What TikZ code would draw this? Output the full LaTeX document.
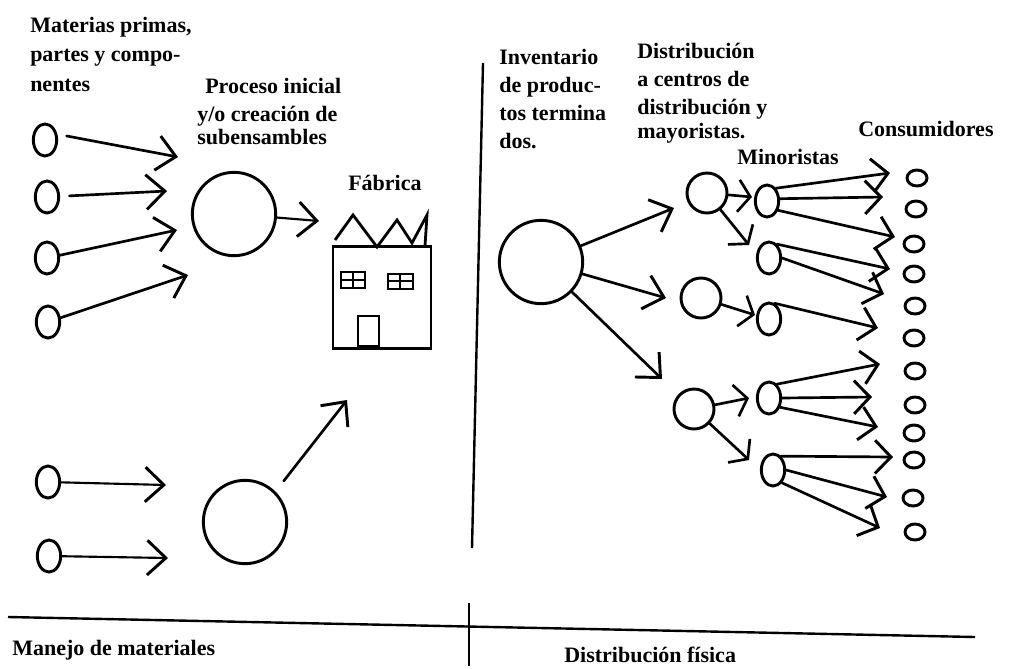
\documentclass[tikz,border=0pt]{standalone}
\usepackage{fontspec}
\setmainfont{Liberation Serif}
\usetikzlibrary{arrows.meta,shapes.geometric}
\tikzstyle{big} = [circle, draw=black, line width=2.2pt, minimum size=62.5pt, inner sep=0pt]
\tikzstyle{mid} = [circle, draw=black, line width=2.2pt, minimum size=30pt, inner sep=0pt]
\tikzstyle{oval} = [ellipse, draw=black, line width=2.2pt, minimum width=17.5pt, minimum height=24pt, inner sep=0pt]
\tikzstyle{cons} = [ellipse, draw=black, line width=2.2pt, minimum width=15pt, minimum height=12pt, inner sep=0pt]
\tikzstyle{arrow} = [line width=2pt, line cap=round, -{Straight Barb[length=14pt,width=26pt,line width=2.2pt]}]
\tikzstyle{small} = [line width=2pt, line cap=round, -{Straight Barb[length=12pt,width=25pt,line width=2.2pt]}]
\tikzstyle{tiny} = [line width=2pt, line cap=round, -{Straight Barb[length=9pt,width=24pt,line width=2pt]}]
\tikzstyle{rule} = [line width=1.8pt]
\tikzstyle{house} = [line width=2.1pt]
\tikzstyle{label} = [font=\bfseries\fontsize{16.5pt}{21pt}\selectfont, inner sep=0pt, align=left, anchor=north west]
\begin{document}
\begin{tikzpicture}[x=0.75pt,y=-0.75pt]
\useasboundingbox (0,0) rectangle (1009,668);
% materiales
\draw (45,140) node (s1) [oval] {};
\draw (47,197) node (s2) [oval] {};
\draw (47,258) node (s3) [oval] {};
\draw (48,322) node (s4) [oval] {};
\draw (48,482) node (s5) [oval] {};
\draw (49,556) node (s6) [oval] {};
\draw (234,214) node (p1) [big] {};
\draw (245,522) node (p2) [big] {};
\coordinate (a1) at (178,157);
\coordinate (a2) at (167,191);
\coordinate (a3) at (177,230);
\coordinate (a4) at (188,275);
\coordinate (a5) at (166,485);
\coordinate (a6) at (168,558);
\coordinate (b1) at (319,221);
\coordinate (b2) at (347,400);
\draw[arrow, shorten <=7pt] (s1.25)--(a1);
\draw[arrow, shorten <=7pt] (s2)--(a2);
\draw[arrow] (s3)--(a3);
\draw[arrow] (s4)--(a4);
\draw[arrow, line width=1.6pt] (s5)--(a5);
\draw[arrow, line width=1.6pt] (s6)--(a6);
\draw[arrow, line width=1.6pt] (p1)--(b1);
\draw[arrow, shorten <=10pt] (p2.45)--(b2);
% fabrica
\draw (382,297.5) node (f1) [draw=black, line width=2.2pt, minimum width=73.5pt, minimum height=77pt, inner sep=0pt] {};
\draw[house] (335,240)--(353,215)--(377,247)--(397,220)--(412,243)--(427,215)--(425,246);
\draw[house] (341,272) rectangle (365,288);
\draw[house] (341,280)--(365,280);
\draw[house] (353,272)--(353,288);
\draw[house] (388,274) rectangle (413,289);
\draw[house] (388,281)--(413,281);
\draw[house] (400,274)--(400,289);
\draw[house] (358,316) rectangle (379,346);
% distribucion
\draw (541,262) node (d0) [big] {};
\draw (707,193) node (d1) [mid] {};
\draw (701,298) node (d2) [mid] {};
\draw (694,409) node (d3) [mid] {};
\coordinate (e1) at (674,208);
\coordinate (e2) at (666,298);
\coordinate (e3) at (662,379);
\draw[arrow] (d0)--(e1);
\draw[arrow] (d0)--(e2);
\draw[arrow] (d0)--(e3);
\draw (767,201) node (m1) [oval] {};
\draw (769,258) node (m2) [oval] {};
\draw (769,319) node (m3) [oval] {};
\draw (769,398) node (m4) [oval] {};
\draw (773,470) node (m5) [oval] {};
\coordinate (g1) at (752,197);
\coordinate (g2) at (749,245);
\coordinate (g3) at (755,315);
\coordinate (g4) at (749,398);
\coordinate (g5) at (749,460);
\draw[tiny] (d1)--(g1);
\draw[tiny] (d1)--(g2);
\draw[tiny] (d2)--(g3);
\draw[tiny] (d3)--(g4);
\draw[tiny] (d3)--(g5);
% consumidores
\draw (917,178) node (c1) [cons] {};
\draw (916,209) node (c2) [cons] {};
\draw (914,244) node (c3) [cons] {};
\draw (914,274) node (c4) [cons] {};
\draw (915,306) node (c5) [cons] {};
\draw (914,338) node (c6) [cons] {};
\draw (915,371) node (c7) [cons] {};
\draw (915,405) node (c8) [cons] {};
\draw (914,433) node (c9) [cons] {};
\draw (914,460) node (c10) [cons] {};
\draw (913,498) node (c11) [cons] {};
\draw (915,532) node (c12) [cons] {};
\coordinate (h1) at (890,173);
\coordinate (h2) at (883,197);
\coordinate (h3) at (895,237);
\coordinate (h4) at (890,269);
\coordinate (h5) at (884,294);
\coordinate (h6) at (878,328);
\coordinate (h7) at (880,364);
\coordinate (h8) at (872,397);
\coordinate (h9) at (878,427);
\coordinate (h10) at (893,457);
\coordinate (h11) at (887,497);
\coordinate (h12) at (880,528);
\draw[small] (m1.55)--(h1);
\draw[small] (m1.10)--(h2);
\draw[small] (m1.-40)--(h3);
\draw[small] (m2.60)--(h4);
\draw[small] (m2.0)--(h5);
\draw[small] (m3.70)--(h6);
\draw[small] (m4.60)--(h7);
\draw[small] (m4.0)--(h8);
\draw[small] (m4.-40)--(h9);
\draw[small] (m5.60)--(h10);
\draw[small] (m5.0)--(h11);
\draw[small] (m5.-55)--(h12);
% divisiones
\coordinate (r1) at (483,63);
\coordinate (r2) at (472,548);
\coordinate (r3) at (8,617);
\coordinate (r4) at (975,637);
\coordinate (r5) at (469,603);
\coordinate (r6) at (469,666);
\draw[rule] (r1)--(r2);
\draw[rule] (r3)--(r4);
\draw[rule] (r5)--(r6);
% textos
\node (t1) [label] at (30,17) {Materias primas,\\[1pt]partes y compo-\\[1pt]nentes};
\node (t2) [label] at (197,78) {\hspace*{6pt}Proceso inicial\\y/o creación de\\[-4pt]subensambles};
\node (t3) [label] at (348,175) {Fábrica};
\node (t4) [label] at (499,49) {Inventario\\de produc-\\tos termina\\dos.};
\node (t5) [label] at (637,43) {Distribución\\a centros de\\distribución y\\[-3pt]mayoristas.};
\node (t6) [label] at (737,149) {Minoristas};
\node (t7) [label] at (858,121) {Consumidores};
\node (t8) [label] at (12,640) {Manejo de materiales};
\node (t9) [label] at (564,647) {Distribución física};
\end{tikzpicture}
\end{document}
